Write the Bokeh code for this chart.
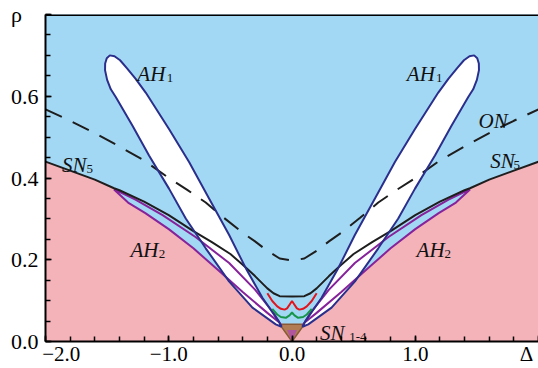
from bokeh.plotting import figure
from bokeh.models import FixedTicker, Range1d, Span
from bokeh.core.properties import value
from bokeh.embed import file_html
from bokeh.resources import INLINE

# ---------------- data (right half, x >= 0; the diagram is symmetric in Delta) ----------------
# SN5 saddle-node line (black)
sn5_x = [0.0, 0.10, 0.15, 0.20, 0.30, 0.40, 0.50, 0.65, 0.80, 1.00, 1.20, 1.40, 1.444, 1.60, 1.80, 2.00]
sn5_r = [0.110, 0.111, 0.118, 0.130, 0.160, 0.188, 0.214, 0.243, 0.270, 0.309, 0.342, 0.370, 0.375, 0.396, 0.418, 0.440]

# ON line (dashed)
on_x = [0.0, 0.10, 0.20, 0.30, 0.40, 0.55, 0.70, 0.85, 1.00, 1.20, 1.40, 1.60, 1.80, 2.00]
on_r = [0.198, 0.203, 0.222, 0.245, 0.266, 0.302, 0.340, 0.371, 0.400, 0.443, 0.477, 0.510, 0.540, 0.568]

# AH1 lobe outline (right lobe, closed)
ah1_x = [0.085, 0.105, 0.240, 0.376, 0.511, 0.673, 0.835, 0.998, 1.187, 1.270, 1.340, 1.395, 1.440,
         1.478, 1.503, 1.516, 1.517, 1.500, 1.470, 1.430, 1.294, 1.160, 0.998, 0.862, 0.700,
         0.511, 0.321, 0.132]
ah1_r = [0.036, 0.048, 0.107, 0.180, 0.261, 0.350, 0.439, 0.520, 0.609, 0.643, 0.669, 0.688, 0.698,
         0.700, 0.693, 0.680, 0.664, 0.640, 0.617, 0.598, 0.528, 0.455, 0.374, 0.301, 0.228,
         0.147, 0.083, 0.042]

# AH2 lobe (right), upper and lower branches from the centre to the tip
ah2_up_x = [0.085, 0.15, 0.30, 0.51, 0.78, 1.05, 1.27, 1.40, 1.444]
ah2_up_r = [0.038, 0.070, 0.127, 0.192, 0.255, 0.309, 0.347, 0.366, 0.372]
ah2_lo_x = [0.085, 0.10, 0.20, 0.40, 0.60, 0.80, 1.00, 1.19, 1.33, 1.444]
ah2_lo_r = [0.038, 0.046, 0.070, 0.121, 0.175, 0.228, 0.275, 0.314, 0.340, 0.372]

# small central curves (right half)
red_x = [0.0, 0.02, 0.04, 0.06, 0.09, 0.12, 0.16, 0.20]
red_r = [0.099, 0.090, 0.081, 0.078, 0.080, 0.086, 0.099, 0.118]
green_x = [0.0, 0.02, 0.05, 0.09, 0.12, 0.16]
green_r = [0.071, 0.064, 0.058, 0.060, 0.066, 0.080]

# SN1-4 wedge at the origin
brown_x = [-0.10, 0.10, 0.0]
brown_r = [0.042, 0.042, 0.0]
core_x = [-0.04, 0.04, 0.0]
core_r = [0.028, 0.028, 0.0]

# axis ticks (the axis names sit in the tick-label rows, as in the original)
NB = "\u00a0"
x_ticks = [-2.0, -1.0, 0.0, 1.0, 2.0]
x_tick_labels = [NB * 6 + "\u22122.0", "\u22121.0", "0.0", "1.0", "\u0394" + NB]
x_minor = [-2.0, -1.8, -1.6, -1.4, -1.2, -1.0, -0.8, -0.6, -0.4, -0.2, 0.0,
           0.2, 0.4, 0.6, 0.8, 1.0, 1.2, 1.4, 1.6, 1.8, 2.0]
y_ticks = [0.0, 0.2, 0.4, 0.6, 0.8]
y_tick_labels = ["0.0", "0.2", "0.4", "0.6", "\u03c1" + NB * 3]
y_minor = [0.0, 0.05, 0.1, 0.15, 0.2, 0.25, 0.3, 0.35, 0.4, 0.45, 0.5, 0.55, 0.6, 0.65, 0.7, 0.75, 0.8]

# region labels
lab_text = ["AH", "AH", "ON", "SN", "SN", "AH", "AH", "SN"]
lab_x = [-1.255, 0.932, 1.513, -1.866, 1.608, -1.311, 1.011, 0.227]
lab_r = [0.655, 0.655, 0.539, 0.431, 0.442, 0.224, 0.224, 0.022]
sub_text = ["1", "1", "5", "5", "2", "2", "1-4"]
sub_x = [-1.016, 1.169, -1.668, 1.798, -1.082, 1.238, 0.464]
sub_r = [0.645, 0.645, 0.421, 0.432, 0.214, 0.214, 0.012]

# ---------------- helpers ----------------
def mirror(xs, ys):
    lx = [-xs[i] for i in range(len(xs) - 1, -1, -1) if xs[i] > 0]
    ly = [ys[i] for i in range(len(xs) - 1, -1, -1) if xs[i] > 0]
    return lx + list(xs), ly + list(ys)

BLUE = "#a3d8f4"
PINK = "#f4b2b9"
NAVY = "#2b2f8c"
PURPLE = "#86239a"
FONT = value("Liberation Serif")

p = figure(width=538, height=368, x_range=Range1d(-2.0, 2.0), y_range=Range1d(0.0, 0.8),
           output_backend="svg", toolbar_location=None)
p.min_border_left = 45
p.min_border_right = 0
p.min_border_top = 14
p.min_border_bottom = 24
p.background_fill_color = BLUE
p.border_fill_color = "white"
p.outline_line_color = None
p.grid.visible = False

# pink region: below SN5 outside the AH2 tips, below the AH2 lower branch inside
sn_out = [i for i in range(len(sn5_x)) if sn5_x[i] >= 1.444]
px = ([-sn5_x[i] for i in reversed(sn_out)] +
      [-v for v in reversed(ah2_lo_x)] + [0.0] + list(ah2_lo_x) +
      [sn5_x[i] for i in sn_out] + [2.0, -2.0])
py = ([sn5_r[i] for i in reversed(sn_out)] +
      list(reversed(ah2_lo_r)) + [0.0] + list(ah2_lo_r) +
      [sn5_r[i] for i in sn_out] + [0.0, 0.0])
p.patch(px, py, fill_color=PINK, line_color=None)

# AH1 lobes, white interior
p.patches([[-v for v in ah1_x], list(ah1_x)], [list(ah1_r), list(ah1_r)],
          fill_color="white", line_color=None)

# SN1-4 wedge
p.patch(brown_x, brown_r, fill_color="#b27d55", line_color="#8a5a36", line_width=1.5)
p.patch(core_x, core_r, fill_color="#b0559e", line_color=None)

# AH2 lobes (outline)
ah2_loop_x = list(ah2_up_x) + list(reversed(ah2_lo_x))
ah2_loop_r = list(ah2_up_r) + list(reversed(ah2_lo_r))
p.patches([[-v for v in ah2_loop_x], ah2_loop_x], [ah2_loop_r, ah2_loop_r],
          fill_color=None, line_color=PURPLE, line_width=2)

# SN5
sx, sy = mirror(sn5_x, sn5_r)
p.line(sx, sy, line_color="#1e1e1e", line_width=2)

# ON dashed
ox, oy = mirror(on_x, on_r)
p.line(ox, oy, line_color="#1e1e1e", line_width=2, line_dash="18 12")

# AH1 outlines
p.patches([[-v for v in ah1_x], list(ah1_x)], [list(ah1_r), list(ah1_r)],
          fill_color=None, line_color=NAVY, line_width=2)

# red and green curves
rx, ry = mirror(red_x, red_r)
p.line(rx, ry, line_color="#e3151c", line_width=2)
gx, gy = mirror(green_x, green_r)
p.line(gx, gy, line_color="#17964a", line_width=2)

# labels
p.text(x=lab_x, y=lab_r, text=lab_text, text_font=FONT, text_font_style="italic",
       text_font_size="21px", text_color="#111111", text_align="left", text_baseline="alphabetic")
p.text(x=sub_x, y=sub_r, text=sub_text, text_font=FONT, text_font_style="normal",
       text_font_size="13px", text_color="#111111", text_align="left", text_baseline="alphabetic")

# top frame line
p.add_layout(Span(location=0.8, dimension="width", line_color="black", line_width=3))

# axes
p.xaxis.ticker = FixedTicker(ticks=x_ticks, minor_ticks=x_minor)
p.xaxis.major_label_overrides = {t: s for t, s in zip(x_ticks, x_tick_labels)}
p.yaxis.ticker = FixedTicker(ticks=y_ticks, minor_ticks=y_minor)
p.yaxis.major_label_overrides = {t: s for t, s in zip(y_ticks, y_tick_labels)}
for ax in (p.xaxis, p.yaxis):
    ax.axis_line_width = 2
    ax.axis_line_color = "black"
    ax.major_tick_in = 6
    ax.major_tick_out = 0
    ax.minor_tick_in = 5
    ax.minor_tick_out = 0
    ax.major_tick_line_width = 1.5
    ax.minor_tick_line_width = 1.5
    ax.major_label_text_font = "Liberation Serif"
    ax.major_label_text_font_size = "22px"
    ax.major_label_text_color = "black"
p.xaxis.major_label_text_font_size = "21px"
p.xaxis.major_label_standoff = 0
p.yaxis.major_label_standoff = 7

open("out.html", "w").write(file_html(p, INLINE))
